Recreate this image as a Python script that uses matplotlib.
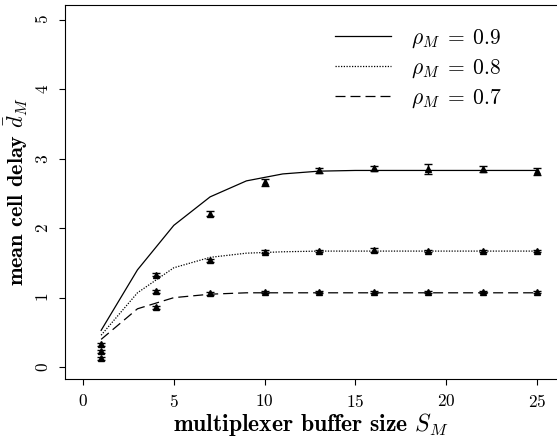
"""
Mean cell delay vs multiplexer buffer size (analysis lines + simulation points)
"""
import numpy as np
import matplotlib
matplotlib.use('Agg')
import matplotlib.pyplot as plt

plt.rcParams['font.family'] = 'serif'
plt.rcParams['font.serif'] = ['cmr10']
plt.rcParams['mathtext.fontset'] = 'cm'
plt.rcParams['axes.formatter.use_mathtext'] = True

# analytical curves
buf = [1, 3, 5, 7, 9, 11, 13, 15, 17, 19, 21, 23, 25]
delay_09 = [0.53, 1.40, 2.04, 2.45, 2.68, 2.78, 2.82, 2.83, 2.83, 2.83, 2.83, 2.83, 2.83]
delay_08 = [0.46, 1.07, 1.43, 1.58, 1.64, 1.66, 1.67, 1.67, 1.67, 1.67, 1.67, 1.67, 1.67]
delay_07 = [0.40, 0.84, 1.00, 1.05, 1.07, 1.07, 1.07, 1.07, 1.07, 1.07, 1.07, 1.07, 1.07]

# simulation results with confidence intervals
sim_buf = [1, 4, 7, 10, 13, 16, 19, 22, 25]
sim_09 = [0.33, 1.33, 2.21, 2.66, 2.83, 2.86, 2.85, 2.85, 2.82]
err_09 = [0.02, 0.02, 0.03, 0.05, 0.04, 0.04, 0.07, 0.04, 0.05]
sim_08 = [0.23, 1.09, 1.54, 1.66, 1.67, 1.68, 1.67, 1.67, 1.67]
err_08 = [0.02, 0.02, 0.02, 0.02, 0.02, 0.03, 0.01, 0.02, 0.02]
sim_07 = [0.13, 0.86, 1.06, 1.08, 1.08, 1.08, 1.08, 1.08, 1.08]
err_07 = [0.02, 0.02, 0.02, 0.02, 0.02, 0.02, 0.02, 0.02, 0.02]

fig = plt.figure(figsize=(5.57, 4.41), dpi=100)
ax = fig.add_axes([65/557, 62/441, 492/557, 374/441])

ax.plot(buf, delay_09, color='black', lw=0.9, label=r'$\rho_M\;=\;0.9$')
ax.plot(buf, delay_08, color='black', lw=0.9, linestyle=(0, (1, 1.2)),
        label=r'$\rho_M\;=\;0.8$')
ax.plot(buf, delay_07, color='black', lw=0.9, linestyle=(0, (8, 4)),
        label=r'$\rho_M\;=\;0.7$')

for s, e in [(sim_09, err_09), (sim_08, err_08), (sim_07, err_07)]:
    ax.errorbar(sim_buf, s, yerr=e, fmt='^', color='black', ms=4,
                capsize=3, elinewidth=1, capthick=1)

ax.set_xlim(-0.99, 26.1)
ax.set_ylim(-0.17, 5.21)
ax.set_xticks([0, 5, 10, 15, 20, 25])
ax.set_yticks([0, 1, 2, 3, 4, 5])
ax.tick_params(labelsize=12.5, length=4, pad=6)
for lab in ax.get_yticklabels():
    lab.set_rotation(90)
    lab.set_va('center')
ax.spines['right'].set_visible(False)

ax.set_xlabel(r'multiplexer buffer size $S_M$', fontsize=17,
              fontfamily='cmb10', labelpad=1)
ax.set_ylabel(r'mean cell delay $\bar{d}_M$', fontsize=16,
              fontfamily='cmb10', labelpad=3)

ax.legend(loc='upper left', bbox_to_anchor=(0.548, 0.94), frameon=False,
          borderaxespad=0, borderpad=0,
          fontsize=15.5, handlelength=2.6, handletextpad=0.95, labelspacing=0.35)

plt.savefig('out.png', dpi=100)
